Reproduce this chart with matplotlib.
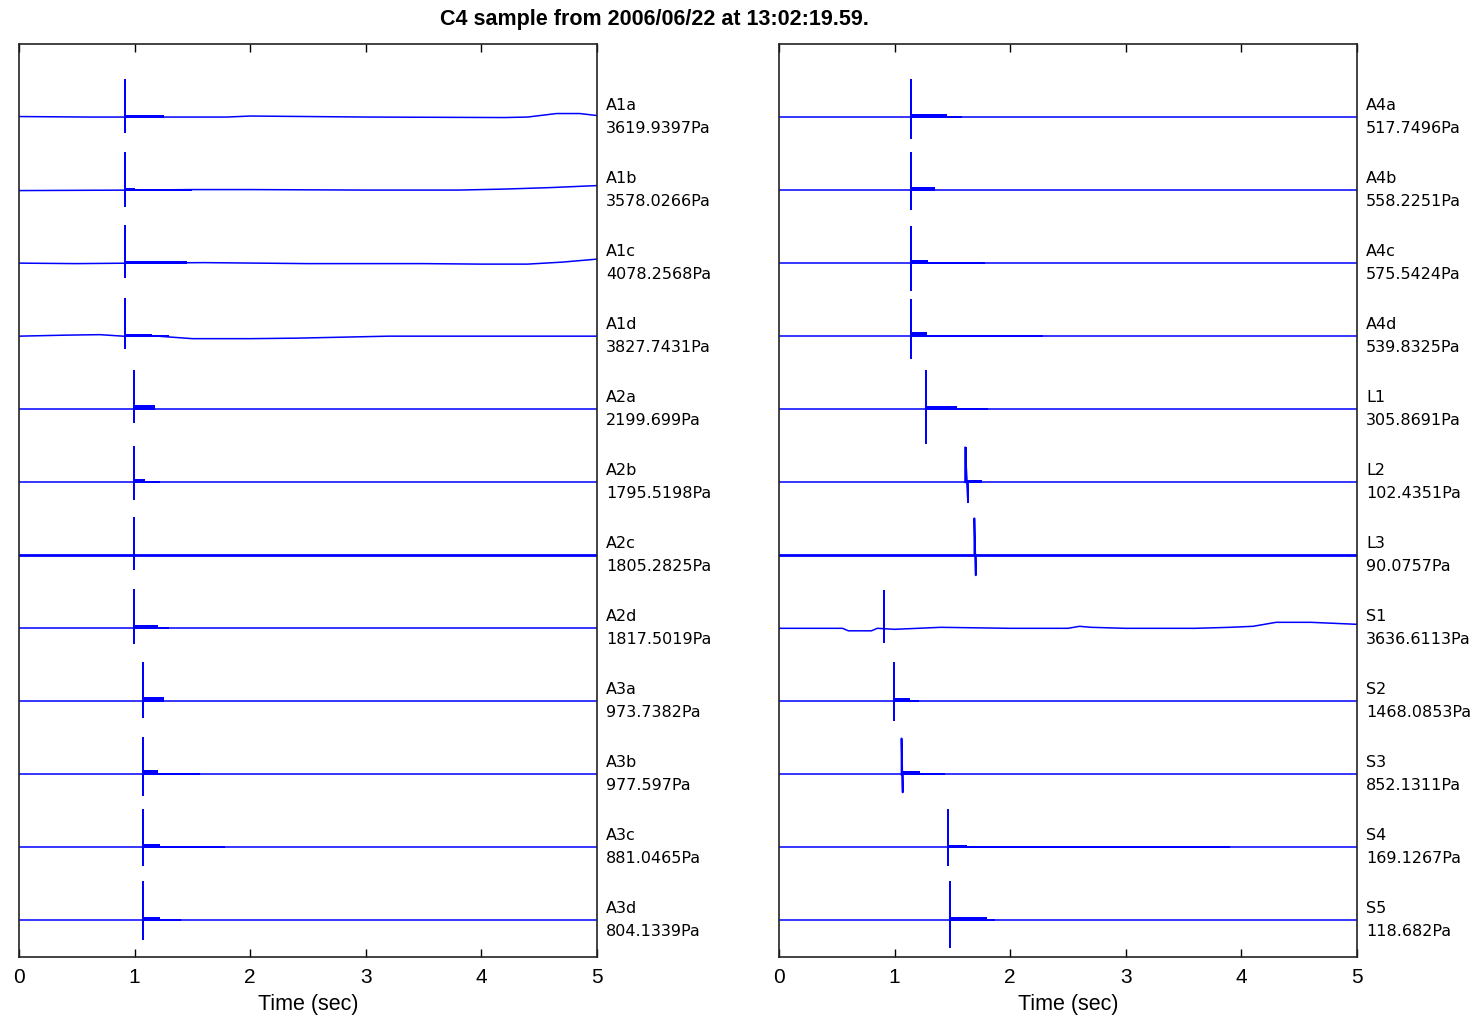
import numpy as np
import matplotlib
matplotlib.use("Agg")
import matplotlib.pyplot as plt
import matplotlib.transforms as mtransforms

plt.rcParams['font.family'] = ['Liberation Sans', 'DejaVu Sans']

title = "C4 sample from 2006/06/22 at 13:02:19.59."

# left panel, top to bottom
names_l = ["A1a", "A1b", "A1c", "A1d", "A2a", "A2b", "A2c", "A2d", "A3a", "A3b", "A3c", "A3d"]
press_l = ["3619.9397Pa", "3578.0266Pa", "4078.2568Pa", "3827.7431Pa", "2199.699Pa", "1795.5198Pa",
           "1805.2825Pa", "1817.5019Pa", "973.7382Pa", "977.597Pa", "881.0465Pa", "804.1339Pa"]
spike_t_l = [0.917, 0.917, 0.917, 0.917, 0.995, 0.995, 0.995, 0.995, 1.07, 1.07, 1.07, 1.07]
spike_up_l = [37, 37, 37, 37, 38, 35, 37, 38, 38, 36, 37, 38]          # px
spike_dn_l = [15, 16, 14, 12, 13, 17, 14, 15, 16, 21, 18, 19]          # px
spike_dt_l = [0.0, 0.0, 0.0, 0.0, 0.0, 0.0, 0.0, 0.0, 0.0, 0.0, 0.0, 0.0]
ring_end_l = [1.25, 1.0, 1.45, 1.15, 1.18, 1.09, 1.0, 1.2, 1.25, 1.2, 1.22, 1.22]
ring_h_l = [2, 2, 2, 2, 4, 3, 1, 3, 4, 4, 3, 3]
tail_end_l = [1.25, 1.5, 1.45, 1.3, 1.18, 1.22, 1.0, 1.3, 1.25, 1.57, 1.78, 1.4]
lw_l = [1.1, 1.1, 1.1, 1.1, 1.1, 1.1, 2.0, 1.1, 1.1, 1.1, 1.1, 1.1]

# right panel, top to bottom
names_r = ["A4a", "A4b", "A4c", "A4d", "L1", "L2", "L3", "S1", "S2", "S3", "S4", "S5"]
press_r = ["517.7496Pa", "558.2251Pa", "575.5424Pa", "539.8325Pa", "305.8691Pa", "102.4351Pa",
           "90.0757Pa", "3636.6113Pa", "1468.0853Pa", "852.1311Pa", "169.1267Pa", "118.682Pa"]
spike_t_r = [1.14, 1.14, 1.14, 1.14, 1.27, 1.61, 1.69, 0.91, 0.995, 1.06, 1.46, 1.48]
spike_up_r = [37, 37, 36, 36, 38, 35, 37, 38, 38, 36, 37, 38]
spike_dn_r = [21, 19, 27, 22, 34, 20, 20, 13, 19, 18, 18, 27]
spike_dt_r = [0.0, 0.0, 0.0, 0.0, 0.0, 0.025, 0.012, 0.0, 0.0, 0.01, 0.0, 0.0]
ring_end_r = [1.45, 1.35, 1.29, 1.28, 1.54, 1.76, 1.69, 0.91, 1.13, 1.22, 1.63, 1.8]
ring_h_r = [3, 3, 3, 4, 3, 2, 1, 1, 3, 3, 2, 3]
tail_end_r = [1.58, 1.35, 1.78, 2.28, 1.81, 1.76, 1.69, 0.91, 1.21, 1.44, 3.9, 1.87]
lw_r = [1.1, 1.1, 1.1, 1.1, 1.1, 1.1, 2.0, 1.1, 1.1, 1.1, 1.1, 1.1]

# slow baseline drift (time s, offset px up)
drift_A1a_t = [0, 0.6, 1.8, 2.0, 3.0, 4.2, 4.4, 4.65, 4.85, 5.0]
drift_A1a_v = [0.5, 0, 0, 1, 0, -0.5, 0, 3.5, 3.5, 1.5]
drift_A1b_t = [0, 1.0, 1.5, 2.0, 3.0, 3.8, 4.2, 4.6, 5.0]
drift_A1b_v = [-0.5, 0, 0.5, 0.5, 0, 0, 1, 2.5, 4.5]
drift_A1c_t = [0, 0.5, 1.0, 1.6, 2.5, 3.5, 4.0, 4.4, 4.7, 5.0]
drift_A1c_v = [0, -0.5, 0, 0.5, -0.5, -0.5, -1, -1, 1, 4]
drift_A1d_t = [0, 0.4, 0.7, 0.9, 1.2, 1.5, 2.0, 2.4, 2.8, 3.2, 4.0, 5.0]
drift_A1d_v = [0, 1, 1.5, 0, 0, -2.5, -2.5, -2, -1, 0, 0, 0]
drift_S1_t = [0, 0.55, 0.6, 0.8, 0.85, 1.0, 1.2, 1.4, 2.0, 2.5, 2.6, 2.7, 3.0, 3.6, 3.9, 4.1, 4.3, 4.6, 5.0]
drift_S1_v = [0, 0, -2.5, -2.5, 0, -1, 0, 1, 0, 0, 2, 1, 0, 0, 1, 2, 6, 6, 4]

drift = {
    "A1a": (drift_A1a_t, drift_A1a_v), "A1b": (drift_A1b_t, drift_A1b_v),
    "A1c": (drift_A1c_t, drift_A1c_v), "A1d": (drift_A1d_t, drift_A1d_v),
    "S1": (drift_S1_t, drift_S1_v),
}

PX = 73.04  # pixels per trace unit
col = "#0000ff"

fig = plt.figure(figsize=(14.77, 10.21), dpi=100)
fig.text(654.5 / 1477, 1 - 19 / 1021, title, ha="center", va="center",
         fontsize=15.5, fontweight="bold")

def panel(left, names, press, st, up, dn, dt, rend, rh, tend, lws):
    ax = fig.add_axes([left / 1477, 64 / 1021, 578 / 1477, 913 / 1021])
    n = len(names)
    for i in range(n):
        base = n - i
        if names[i] in drift:
            dtm, dv = drift[names[i]]
        else:
            dtm, dv = [0, 5], [0, 0]
        dtm = np.asarray(dtm, float)
        dv = np.asarray(dv, float) / PX
        ax.plot(dtm, base + dv, color=col, lw=lws[i], solid_joinstyle="miter")
        b0 = base + np.interp(st[i], dtm, dv)
        ax.plot([st[i], st[i], st[i] + dt[i], st[i] + dt[i]],
                [b0, b0 + up[i] / PX, b0 - dn[i] / PX, b0], color=col, lw=1.3)
        if dt[i] > 0:
            ax.fill_between([st[i], st[i] + dt[i] * 0.6], b0, b0 + up[i] / PX, color=col, lw=0)
        ax.fill_between([st[i], rend[i]], b0 - 1 / PX, b0 + rh[i] / PX, color=col, lw=0)
        ax.fill_between([st[i], tend[i]], b0 - 0.5 / PX, b0 + 1.5 / PX, color=col, lw=0)
        tr = mtransforms.blended_transform_factory(ax.transAxes, ax.transData)
        ax.text(1.0155, base + 12 / PX, names[i], transform=tr, ha="left", va="center",
                fontsize=11.5, family=["DejaVu Sans"])
        ax.text(1.0155, base - 11 / PX, press[i], transform=tr, ha="left", va="center",
                fontsize=11.5, family=["DejaVu Sans"])
    ax.set_xlim(0, 5)
    ax.set_ylim(0.5, 13)
    ax.set_yticks([])
    ax.set_xticks([0, 1, 2, 3, 4, 5])
    ax.tick_params(axis="x", direction="in", top=True, length=6, width=1, labelsize=15, pad=8)
    for s in ax.spines.values():
        s.set_linewidth(1.2)
        s.set_color("#222222")
    ax.set_xlabel("Time (sec)", fontsize=15.5, labelpad=5)
    return ax

panel(19, names_l, press_l, spike_t_l, spike_up_l, spike_dn_l, spike_dt_l,
      ring_end_l, ring_h_l, tail_end_l, lw_l)
panel(779, names_r, press_r, spike_t_r, spike_up_r, spike_dn_r, spike_dt_r,
      ring_end_r, ring_h_r, tail_end_r, lw_r)

fig.savefig("out.png", dpi=100)
